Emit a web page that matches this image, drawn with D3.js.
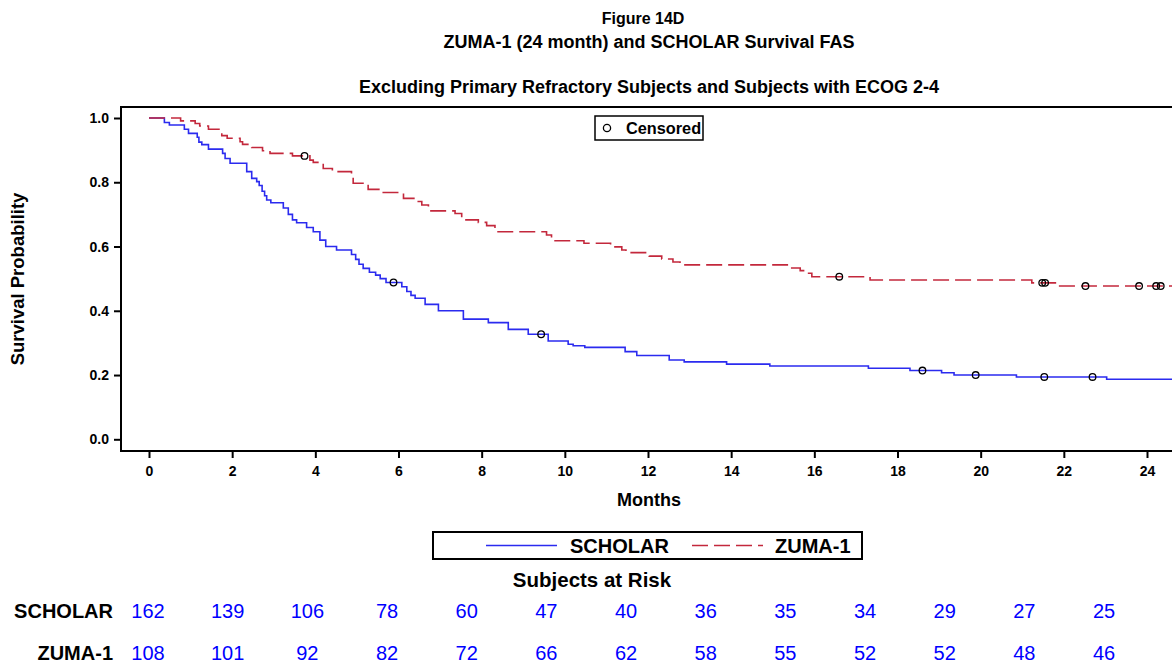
<!DOCTYPE html>
<html>
<head>
<meta charset="utf-8">
<script src="https://cdn.jsdelivr.net/npm/d3@7"></script>
<style>
  body { margin: 0; background: #fff; }
  svg { display: block; font-family: 'Liberation Sans', Arial, sans-serif; }
</style>
</head>
<body>
<div id="vis"></div>
<script>
const FRAME_WIDTH = 1172;
const FRAME_HEIGHT = 664;
const PLOT = { left: 121, top: 107, right: 1177, bottom: 451 };

// titles
const TITLES = [
  'Figure 14D',
  'ZUMA-1 (24 month) and SCHOLAR Survival FAS',
  'Excluding Primary Refractory Subjects and Subjects with ECOG 2-4'
];

// KM step data (month, survival)
const SCHOLAR_TIMES = [0, 0.37, 0.49, 0.85, 0.95, 1.16, 1.2, 1.27, 1.43, 1.77, 1.83, 1.95, 2.35, 2.47, 2.59,
  2.65, 2.72, 2.78, 2.83, 2.93, 3.23, 3.35, 3.45, 3.55, 3.79, 3.95, 4.11, 4.25, 4.51, 4.87, 4.97, 5.05,
  5.15, 5.3, 5.45, 5.56, 5.7, 6.08, 6.2, 6.3, 6.4, 6.64, 6.96, 7.56, 8.16, 8.64, 9.12, 9.6, 10.08, 10.2,
  10.48, 11.45, 11.73, 12.51, 12.87, 13.89, 14.93, 17.3, 18.3, 19.06, 19.36, 20.86, 23.03];
const SCHOLAR_SURV = [1.0, 0.986, 0.978, 0.965, 0.952, 0.94, 0.925, 0.917, 0.903, 0.89, 0.874, 0.859, 0.833, 0.812, 0.802,
  0.79, 0.772, 0.758, 0.745, 0.736, 0.72, 0.7, 0.683, 0.674, 0.659, 0.646, 0.62, 0.6, 0.589, 0.575, 0.56, 0.545,
  0.532, 0.52, 0.511, 0.5, 0.488, 0.475, 0.46, 0.448, 0.439, 0.42, 0.4, 0.374, 0.363, 0.342, 0.327, 0.306, 0.296, 0.291,
  0.286, 0.273, 0.261, 0.247, 0.241, 0.234, 0.228, 0.221, 0.214, 0.207, 0.2, 0.194, 0.187];
const SCHOLAR_CENSORED = [5.88, 9.43, 18.6, 19.88, 21.53, 22.69];

const ZUMA_TIMES = [0, 0.76, 1.11, 1.22, 1.43, 1.75, 1.88, 2.19, 2.25, 2.47, 2.73, 2.91, 3.45, 3.87, 3.95, 4.19,
  4.41, 4.87, 4.91, 5.27, 5.55, 6.12, 6.4, 6.56, 6.72, 7.36, 7.52, 7.92, 8.12, 8.32, 9.56, 9.68, 10.46, 11.1,
  11.37, 11.47, 12.03, 12.33, 12.6, 12.77, 15.35, 15.66, 15.78, 15.94, 17.34, 21.23, 21.9];
const ZUMA_SURV = [1.0, 0.991, 0.983, 0.975, 0.965, 0.945, 0.937, 0.926, 0.918, 0.908, 0.898, 0.89, 0.882, 0.869, 0.862, 0.843,
  0.833, 0.823, 0.797, 0.778, 0.768, 0.75, 0.74, 0.729, 0.711, 0.703, 0.683, 0.675, 0.665, 0.646, 0.636, 0.618, 0.61, 0.599,
  0.589, 0.581, 0.57, 0.561, 0.552, 0.543, 0.533, 0.525, 0.517, 0.506, 0.496, 0.487, 0.477];
const ZUMA_CENSORED = [3.74, 16.6, 21.48, 21.55, 22.52, 23.81, 24.22, 24.33];

const LAST_MONTH = 24.7;

// subjects at risk
const RISK_MONTHS = [0, 2, 4, 6, 8, 10, 12, 14, 16, 18, 20, 22, 24];
const SCHOLAR_RISK = [162, 139, 106, 78, 60, 47, 40, 36, 35, 34, 29, 27, 25];
const ZUMA_RISK = [108, 101, 92, 82, 72, 66, 62, 58, 55, 52, 52, 48, 46];

const X_TICKS = [0, 2, 4, 6, 8, 10, 12, 14, 16, 18, 20, 22, 24];
const Y_TICKS = [0, 0.2, 0.4, 0.6, 0.8, 1.0];

const BLUE = '#2b2bef';
const RED = '#c3283c';

function buildChart() {
  const FRAME = d3.select('#vis')
    .append('svg')
    .attr('width', FRAME_WIDTH)
    .attr('height', FRAME_HEIGHT);

  const X_SCALE = d3.scaleLinear().domain([0, 24]).range([149, 1147]);
  const Y_SCALE = d3.scaleLinear().domain([0, 1]).range([439.3, 118]);

  // titles
  FRAME.selectAll('.title')
    .data(TITLES)
    .enter()
    .append('text')
    .attr('x', (d, i) => (i === 0 ? 643 : 649))
    .attr('y', (d, i) => [24, 48, 93][i])
    .attr('text-anchor', 'middle')
    .attr('font-weight', 'bold')
    .attr('font-size', (d, i) => (i === 0 ? '16px' : '18px'))
    .text((d) => d);

  FRAME.append('defs').append('clipPath').attr('id', 'clip')
    .append('rect')
    .attr('x', PLOT.left).attr('y', PLOT.top)
    .attr('width', PLOT.right - PLOT.left).attr('height', PLOT.bottom - PLOT.top);

  // axes
  const xAxis = FRAME.append('g')
    .attr('transform', 'translate(0,' + PLOT.bottom + ')')
    .call(d3.axisBottom(X_SCALE).tickValues(X_TICKS).tickSize(7).tickPadding(8));
  xAxis.select('.domain').remove();

  const yAxis = FRAME.append('g')
    .attr('transform', 'translate(' + PLOT.left + ',0)')
    .call(d3.axisLeft(Y_SCALE).tickValues(Y_TICKS).tickFormat(d3.format('.1f')).tickSize(7).tickPadding(5));
  yAxis.select('.domain').remove();

  [xAxis, yAxis].forEach((g) => {
    g.selectAll('line').attr('stroke', '#000').attr('stroke-width', 2);
    g.selectAll('text')
      .attr('font-family', "'Liberation Sans', Arial, sans-serif")
      .attr('font-weight', 'bold')
      .attr('font-size', '14px')
      .attr('fill', '#000');
  });

  // plot frame
  FRAME.append('rect')
    .attr('x', PLOT.left).attr('y', PLOT.top)
    .attr('width', PLOT.right - PLOT.left).attr('height', PLOT.bottom - PLOT.top)
    .attr('fill', 'none').attr('stroke', '#000').attr('stroke-width', 2);

  FRAME.append('text')
    .attr('transform', 'translate(18,279) rotate(-90)')
    .attr('text-anchor', 'middle')
    .attr('dy', '0.35em')
    .attr('font-weight', 'bold')
    .attr('font-size', '18.5px')
    .text('Survival Probability');

  FRAME.append('text')
    .attr('x', 649).attr('y', 506)
    .attr('text-anchor', 'middle')
    .attr('font-weight', 'bold')
    .attr('font-size', '18px')
    .text('Months');

  // curves
  const series = [
    { times: SCHOLAR_TIMES, surv: SCHOLAR_SURV, cens: SCHOLAR_CENSORED, color: BLUE, dash: null },
    { times: ZUMA_TIMES, surv: ZUMA_SURV, cens: ZUMA_CENSORED, color: RED, dash: '16,6' }
  ];

  const line = d3.line()
    .x((d) => X_SCALE(d[0]))
    .y((d) => Y_SCALE(d[1]))
    .curve(d3.curveStepAfter);

  const curves = FRAME.append('g').attr('clip-path', 'url(#clip)');

  series.forEach((s) => {
    const pts = s.times.map((t, i) => [t, s.surv[i]]);
    pts.push([LAST_MONTH, s.surv[s.surv.length - 1]]);
    curves.append('path')
      .datum(pts)
      .attr('d', line)
      .attr('fill', 'none')
      .attr('stroke', s.color)
      .attr('stroke-width', 1.6)
      .attr('stroke-dasharray', s.dash);
  });

  series.forEach((s) => {
    curves.selectAll(null)
      .data(s.cens)
      .enter()
      .append('circle')
      .attr('cx', (d) => X_SCALE(d))
      .attr('cy', (d) => Y_SCALE(s.surv[d3.bisectRight(s.times, d) - 1]))
      .attr('r', 3.3)
      .attr('fill', 'none')
      .attr('stroke', '#000')
      .attr('stroke-width', 1.3);
  });

  // censored legend
  FRAME.append('rect')
    .attr('x', 595).attr('y', 116).attr('width', 108).attr('height', 24)
    .attr('fill', '#fff').attr('stroke', '#000').attr('stroke-width', 1.5);
  FRAME.append('circle')
    .attr('cx', 607).attr('cy', 128).attr('r', 3.6)
    .attr('fill', 'none').attr('stroke', '#000').attr('stroke-width', 1.3);
  FRAME.append('text')
    .attr('x', 626).attr('y', 134)
    .attr('font-weight', 'bold').attr('font-size', '16.3px')
    .text('Censored');

  // series legend
  FRAME.append('rect')
    .attr('x', 433).attr('y', 532).attr('width', 429).attr('height', 27)
    .attr('fill', '#fff').attr('stroke', '#000').attr('stroke-width', 2);
  const legendItems = [
    { name: 'SCHOLAR', color: BLUE, dash: null, x0: 486, x1: 557, tx: 570 },
    { name: 'ZUMA-1', color: RED, dash: '16,6', x0: 692, x1: 763, tx: 775 }
  ];
  legendItems.forEach((d) => {
    FRAME.append('line')
      .attr('x1', d.x0).attr('x2', d.x1).attr('y1', 545.5).attr('y2', 545.5)
      .attr('stroke', d.color).attr('stroke-width', 1.6)
      .attr('stroke-dasharray', d.dash);
    FRAME.append('text')
      .attr('x', d.tx).attr('y', 553)
      .attr('font-weight', 'bold').attr('font-size', '20px')
      .text(d.name);
  });

  // subjects at risk table
  FRAME.append('text')
    .attr('x', 592).attr('y', 586.5)
    .attr('text-anchor', 'middle')
    .attr('font-weight', 'bold').attr('font-size', '20.5px')
    .text('Subjects at Risk');

  const RISK_SCALE = d3.scaleLinear().domain([0, 24]).range([148, 1104]);
  const rows = [
    { name: 'SCHOLAR', values: SCHOLAR_RISK, y: 618 },
    { name: 'ZUMA-1', values: ZUMA_RISK, y: 660 }
  ];
  rows.forEach((r) => {
    FRAME.append('text')
      .attr('x', 113).attr('y', r.y)
      .attr('text-anchor', 'end')
      .attr('font-weight', 'bold').attr('font-size', '20px')
      .text(r.name);
    FRAME.selectAll(null)
      .data(r.values)
      .enter()
      .append('text')
      .attr('x', (d, i) => RISK_SCALE(RISK_MONTHS[i]))
      .attr('y', r.y)
      .attr('text-anchor', 'middle')
      .attr('font-size', '20px')
      .attr('fill', '#0000ff')
      .text((d) => d);
  });
}

buildChart();
</script>
</body>
</html>
